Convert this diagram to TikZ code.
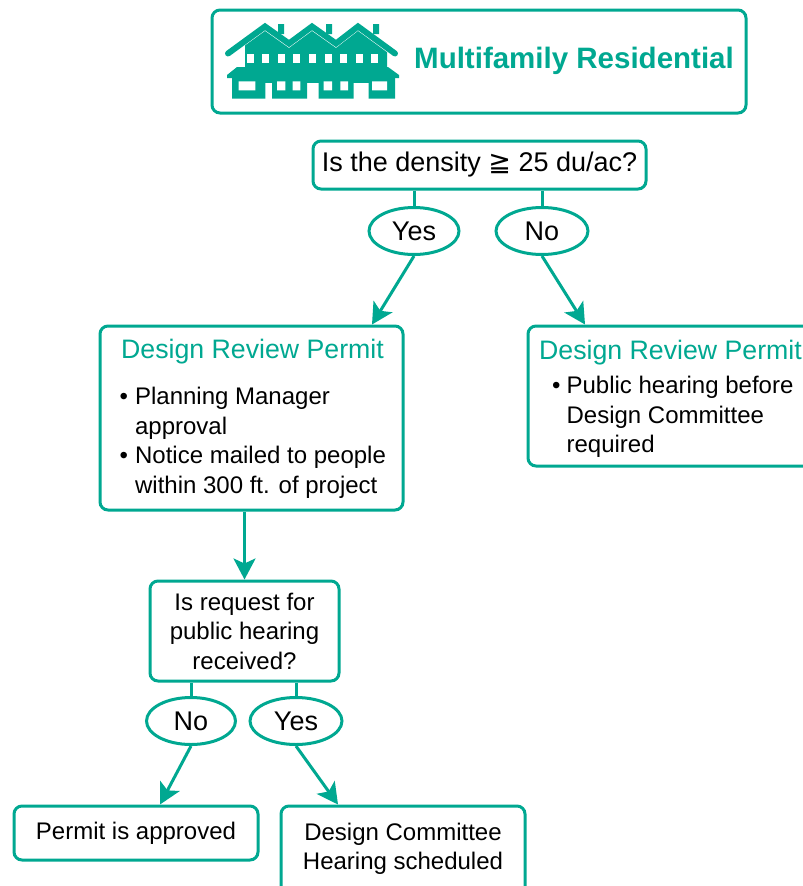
\documentclass[tikz,border=0pt]{standalone}
\usepackage{fontspec}
\setmainfont{Liberation Sans}
\newfontfamily\dejavu{DejaVu Sans}
\usetikzlibrary{shapes.geometric,arrows.meta,calc}
\definecolor{teal1}{RGB}{0,168,145}
\begin{document}
\begin{tikzpicture}[x=1pt,y=-1pt,
  box/.style={draw=teal1, line width=3pt, rounded corners=8pt, rectangle, fill=white, inner sep=0pt},
  oval/.style={draw=teal1, line width=3pt, ellipse, inner sep=0pt, font=\fontsize{27}{32}\selectfont},
  conn/.style={draw=teal1, line width=3pt},
  arr/.style={conn, -{Stealth[length=21pt,width=22pt,inset=5pt]}},
  txt/.style={font=\fontsize{24}{29.5}\selectfont, inner sep=0pt},
  ttl/.style={font=\fontsize{26.7}{32}\selectfont, text=teal1, inner sep=0pt},
]
\useasboundingbox (0,0) rectangle (803,886);

% title box
\node[box, minimum width=534, minimum height=103] (title) at (479,61.5) {};
\node[inner sep=0pt, font=\bfseries\fontsize{29.5}{34}\selectfont, text=teal1] (titletxt) at (574,61) {Multifamily Residential};

% house icon
\begin{scope}
  \fill[teal1] (245,70) -- (245,45.5) -- (265,31) -- (289,48) -- (312,31) -- (336,48) -- (358,31) -- (387,52.2) -- (387,70) -- cycle;
  \draw[teal1, line width=6pt, line cap=round] (228,53.5) -- (265,26.5) -- (289,43.5) -- (312,26.5) -- (336,43.5) -- (358,26.5) -- (395,53.5);
  \fill[teal1] (278,24) rectangle (284,34) (326,24) rectangle (332,34) (373,24) rectangle (379,34);
  \fill[teal1] (237,67) -- (388,67) -- (399,75) -- (399,78) -- (227,78) -- (227,75) -- cycle;
  \fill[teal1] (232,77) rectangle (395,82.5);
  \fill[teal1] (232,78) rectangle (265.3,98.7) (272,78) rectangle (307,98.7) (318.7,78) rectangle (353.7,98.7) (368.7,78) rectangle (395,98.7);
  \foreach \i in {0,...,8} {\fill[white] (246.5+15.6*\i,54.3) rectangle ++(7,9);}
  \fill[white] (238.7,81.3) rectangle (255.3,90.3) (277,81.3) rectangle (285.3,90.3) (292.7,81.3) rectangle (300.3,90.3)
               (323.7,81.3) rectangle (332,90.3) (340.3,81.3) rectangle (348,90.3) (372,81.3) rectangle (387,90.3);
\end{scope}

% density question
\node[box, minimum width=333, minimum height=48, txt, font=\fontsize{27}{32}\selectfont] (dens) at (479.5,165) {Is the density {\dejavu ≧} 25 du/ac?};
\node[oval, minimum width=90, minimum height=47] (yes1) at (414,231) {Yes};
\node[oval, minimum width=92, minimum height=47] (no1) at (542,231) {No};
\draw[conn] (yes1.north |- dens.south) -- (yes1.north);
\draw[conn] (no1.north |- dens.south) -- (no1.north);

% design review permit boxes
\node[box, minimum width=303, minimum height=184] (drpL) at (251.5,418) {};
\node[ttl] (drpLt) at (252.5,351.5) {Design Review Permit};
\node[txt, anchor=north west, align=left] (drpLb) at (119.5,384) {%
  \begin{tabular}{@{}l@{\hspace{7pt}}l@{}}
  • & Planning Manager\\
    & approval\\
  • & Notice mailed to people\\
    & within 300 ft. of project
  \end{tabular}};

\node[box, minimum width=340, minimum height=140] (drpR) at (698,396) {};
\node[ttl] (drpRt) at (670.5,352.5) {Design Review Permit};
\node[txt, anchor=north west, align=left] (drpRb) at (552,373) {%
  \begin{tabular}{@{}l@{\hspace{6pt}}l@{}}
  • & Public hearing before\\
    & Design Committee\\
    & required
  \end{tabular}};

\draw[arr] (yes1.south) -- ([xshift=120.5]drpL.north);
\draw[arr] (no1.south) -- ([xshift=-113]drpR.north);

% request question
\node[box, minimum width=189, minimum height=100, txt, align=center] (req) at (244.5,631) {Is request for\\public hearing\\received?};
\draw[arr] (req.north |- drpL.south) -- (req.north);

\node[oval, minimum width=89, minimum height=47] (no2) at (191,721) {No};
\node[oval, minimum width=92, minimum height=47] (yes2) at (296,721) {Yes};
\draw[conn] (no2.north |- req.south) -- (no2.north);
\draw[conn] (yes2.north |- req.south) -- (yes2.north);

% outcomes
\node[box, minimum width=244, minimum height=54, txt] (perm) at (136,833) {Permit is approved};
\node[box, minimum width=244, minimum height=110] (dc) at (403,861) {};
\node[txt, align=center] (dct) at (403,849) {Design Committee\\Hearing scheduled};

\draw[arr] (no2.south) -- ([xshift=24]perm.north);
\draw[arr] (yes2.south) -- ([xshift=-65]dc.north);
\end{tikzpicture}
\end{document}
